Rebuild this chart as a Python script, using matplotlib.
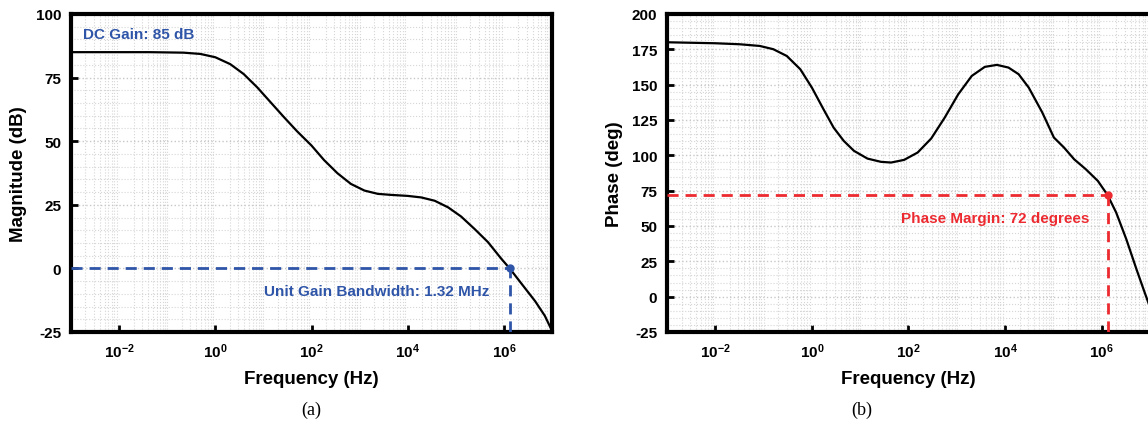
import numpy as np
import matplotlib
matplotlib.use("Agg")
import matplotlib.pyplot as plt
from matplotlib.ticker import FixedLocator, MultipleLocator, NullFormatter

# ---- data (log10 of frequency in Hz) ----
mag_logf = [-3, -2, -1.36, -0.66, -0.31, 0.0, 0.31, 0.59, 0.87, 1.15, 1.43,
            1.70, 2.0, 2.26, 2.54, 2.82, 3.10, 3.38, 3.65, 4.0, 4.28, 4.56,
            4.84, 5.11, 5.39, 5.67, 5.95, 6.12, 6.37, 6.65, 6.85, 7.0]
mag_db = [85, 85, 85, 84.8, 84.3, 83.0, 80.3, 76.4, 71.2, 65.3, 59.4, 53.9,
          48.3, 42.6, 37.4, 33.2, 30.6, 29.3, 28.9, 28.5, 27.9, 26.6, 24.0,
          20.4, 15.5, 10.3, 3.7, 0.0, -6.1, -12.9, -18.6, -24.5]

ph_logf = [-3, -2, -1.50, -1.08, -0.80, -0.52, -0.24, 0.0, 0.24, 0.45, 0.66,
           0.87, 1.15, 1.43, 1.64, 1.91, 2.19, 2.47, 2.75, 3.03, 3.31, 3.58,
           3.83, 4.07, 4.28, 4.49, 4.77, 5.01, 5.22, 5.43, 5.67, 5.92, 6.12,
           6.30, 6.51, 6.72, 6.89, 7.0]
ph_deg = [180, 179.3, 178.6, 177.4, 175.1, 170.3, 160.9, 147.9, 132.6, 119.6,
          110.2, 103.2, 97.7, 95.4, 94.9, 96.8, 102.0, 111.9, 126.7, 143.2,
          156.2, 162.6, 164.0, 162.1, 157.4, 147.9, 130.3, 112.6, 105.5, 97.2,
          90.2, 81.9, 72.0, 59.5, 40.6, 19.4, 2.9, -7.5]

ugb_hz = 1.32e6
dc_gain = 85
phase_margin = 72

xtick_exp = [-2, 0, 2, 4, 6]
mag_yticks = [-25, 0, 25, 50, 75, 100]
ph_yticks = [-25, 0, 25, 50, 75, 100, 125, 150, 175, 200]

blue = "#2F55A8"
red = "#EC2A30"

plt.rcParams['font.family'] = ['Liberation Sans', 'DejaVu Sans']
plt.rcParams['font.weight'] = 'bold'
plt.rcParams['axes.unicode_minus'] = False
plt.rcParams['mathtext.fontset'] = 'custom'
plt.rcParams['mathtext.rm'] = 'Liberation Sans:bold'
plt.rcParams['mathtext.bf'] = 'Liberation Sans:bold'
plt.rcParams['mathtext.default'] = 'regular'

fig = plt.figure(figsize=(11.48, 4.27), dpi=100)
W, H = 1148, 427
def rect(l, r, t, b):
    return [l / W, 1 - b / H, (r - l) / W, (b - t) / H]

ax1 = fig.add_axes(rect(71, 552, 15, 333))
ax2 = fig.add_axes(rect(667, 1150, 15, 333))

def style(ax, yticks, ylim, ylabel):
    ax.set_xscale('log')
    ax.set_xlim(1e-3, 1e7)
    ax.set_ylim(*ylim)
    ax.xaxis.set_major_locator(FixedLocator([10.0 ** e for e in xtick_exp]))
    ax.set_xticklabels(['$10^{%d}$' % e for e in xtick_exp])
    ax.xaxis.set_minor_locator(FixedLocator(
        [m * 10.0 ** d for d in range(-3, 7) for m in range(1, 10)]))
    ax.xaxis.set_minor_formatter(NullFormatter())
    ax.set_yticks(yticks)
    ax.yaxis.set_minor_locator(MultipleLocator(5))
    ax.tick_params(which='major', direction='in', length=5, width=2,
                   labelsize=11, pad=7)
    ax.tick_params(which='minor', length=0)
    for lab in ax.get_yticklabels():
        lab.set_fontweight('bold')
    ax.grid(True, which='minor', color='#d6d6d6', linestyle=':', linewidth=0.8)
    ax.grid(True, which='major', axis='y', color='#c8c8c8', linestyle=':', linewidth=1.0)
    for s in ax.spines.values():
        s.set_linewidth(3)
    ax.set_axisbelow(True)
    ax.set_xlabel('Frequency (Hz)', fontsize=13.5, fontweight='bold', labelpad=7)
    ax.set_ylabel(ylabel, fontsize=13.5, fontweight='bold', labelpad=6)

style(ax1, mag_yticks, (-25, 100), 'Magnitude (dB)')
style(ax2, ph_yticks, (-25, 200), 'Phase (deg)')

f_mag = 10.0 ** np.array(mag_logf)
f_ph = 10.0 ** np.array(ph_logf)

ax1.plot(f_mag, mag_db, color='black', lw=1.6, zorder=3, solid_joinstyle='round')
ax1.plot([1e-3, ugb_hz], [0, 0], color=blue, lw=2, ls=(0, (4, 2.5)), zorder=4)
ax1.plot([ugb_hz, ugb_hz], [-25, 0], color=blue, lw=2, ls=(0, (4, 2.5)), zorder=4)
ax1.plot([ugb_hz], [0], 'o', color=blue, ms=5, zorder=5)
ax1.text(10 ** -2.75, 92, 'DC Gain: %d dB' % dc_gain, color=blue, fontsize=11,
         fontweight='bold', ha='left', va='center')
ax1.text(10 ** 5.69, -9, 'Unit Gain Bandwidth: 1.32 MHz', color=blue,
         fontsize=11, fontweight='bold', ha='right', va='center')

ax2.plot(f_ph, ph_deg, color='black', lw=1.6, zorder=3, solid_joinstyle='round')
ax2.plot([1e-3, ugb_hz], [phase_margin] * 2, color=red, lw=2, ls=(0, (4, 2.5)), zorder=4)
ax2.plot([ugb_hz, ugb_hz], [-25, phase_margin], color=red, lw=2, ls=(0, (4, 2.5)), zorder=4)
ax2.plot([ugb_hz], [phase_margin], 'o', color=red, ms=5, zorder=5)
ax2.text(10 ** 5.74, 55.5, 'Phase Margin: %d degrees' % phase_margin, color=red,
         fontsize=11, fontweight='bold', ha='right', va='center')

fig.text(311 / W, 1 - 410 / H, '(a)', family='Liberation Serif', fontweight='normal',
         fontsize=13, ha='center', va='center')
fig.text(862 / W, 1 - 410 / H, '(b)', family='Liberation Serif', fontweight='normal',
         fontsize=13, ha='center', va='center')

fig.savefig('out.png', dpi=100)
